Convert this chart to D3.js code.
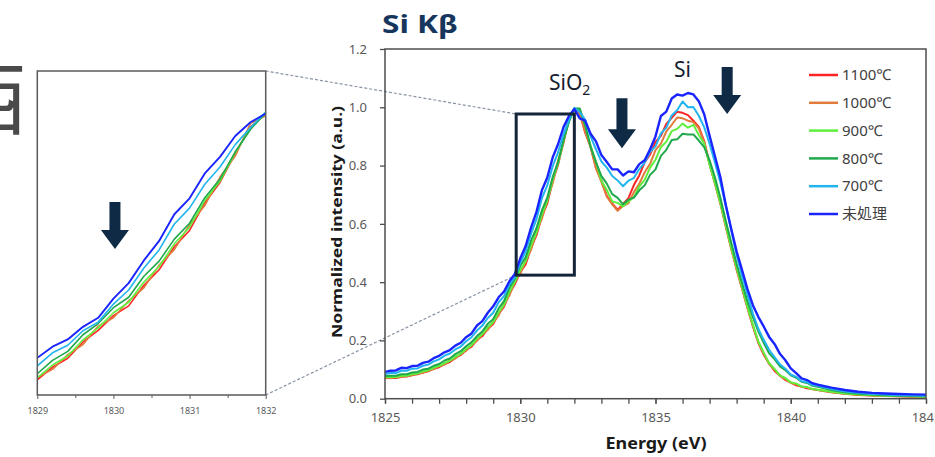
<!DOCTYPE html>
<html>
<head>
<meta charset="utf-8">
<script src="https://cdn.jsdelivr.net/npm/d3@7"></script>
<style>
body { margin: 0; background: #fff; }
text { font-family: "Noto Sans", "Noto Sans CJK JP", sans-serif; }
</style>
</head>
<body>
<svg width="935" height="457"></svg>
<script>
// energies (eV), shared by every series
var energy = [
  1825.0, 1825.2, 1825.4, 1825.6, 1825.8, 1826.0, 1826.2, 1826.4, 1826.6, 1826.8,
  1827.0, 1827.2, 1827.4, 1827.6, 1827.8, 1828.0, 1828.2, 1828.4, 1828.6, 1828.8,
  1829.0, 1829.2, 1829.4, 1829.6, 1829.8, 1830.0, 1830.2, 1830.4, 1830.6, 1830.8,
  1831.0, 1831.2, 1831.4, 1831.6, 1831.8, 1832.0, 1832.2, 1832.4, 1832.6, 1832.8,
  1833.0, 1833.2, 1833.4, 1833.6, 1833.8, 1834.0, 1834.2, 1834.4, 1834.6, 1834.8,
  1835.0, 1835.2, 1835.4, 1835.6, 1835.8, 1836.0, 1836.2, 1836.4, 1836.6, 1836.8,
  1837.0, 1837.2, 1837.4, 1837.6, 1837.8, 1838.0, 1838.2, 1838.4, 1838.6, 1838.8,
  1839.0, 1839.2, 1839.4, 1839.6, 1839.8, 1840.0, 1840.2, 1840.4, 1840.6, 1840.8,
  1841.0, 1841.5, 1842.0, 1842.5, 1843.0, 1843.5, 1844.0, 1844.5, 1845.0
];

var t1100 = [
  0.070, 0.072, 0.071, 0.075, 0.076, 0.081, 0.084, 0.090, 0.094, 0.103,
  0.108, 0.119, 0.126, 0.140, 0.150, 0.167, 0.179, 0.202, 0.215, 0.240,
  0.256, 0.291, 0.316, 0.361, 0.393, 0.434, 0.461, 0.518, 0.561, 0.625,
  0.670, 0.747, 0.803, 0.884, 0.957, 0.992, 0.981, 0.913, 0.866, 0.792,
  0.749, 0.696, 0.670, 0.648, 0.668, 0.688, 0.733, 0.766, 0.811, 0.838,
  0.881, 0.902, 0.943, 0.964, 0.985, 0.981, 0.973, 0.954, 0.933, 0.884,
  0.806, 0.739, 0.671, 0.591, 0.516, 0.443, 0.378, 0.311, 0.249, 0.192,
  0.151, 0.121, 0.095, 0.080, 0.064, 0.056, 0.046, 0.042, 0.036, 0.033,
  0.030, 0.022, 0.017, 0.013, 0.011, 0.009, 0.008, 0.007, 0.006
];
var t1000 = [
  0.072, 0.070, 0.074, 0.074, 0.079, 0.080, 0.088, 0.089, 0.098, 0.101,
  0.113, 0.117, 0.131, 0.138, 0.155, 0.164, 0.185, 0.198, 0.223, 0.236,
  0.263, 0.285, 0.326, 0.354, 0.405, 0.428, 0.475, 0.511, 0.574, 0.617,
  0.686, 0.739, 0.818, 0.876, 0.967, 0.988, 0.978, 0.916, 0.862, 0.790,
  0.744, 0.693, 0.667, 0.645, 0.661, 0.671, 0.709, 0.737, 0.777, 0.806,
  0.853, 0.875, 0.917, 0.940, 0.965, 0.962, 0.954, 0.949, 0.928, 0.880,
  0.804, 0.737, 0.668, 0.590, 0.514, 0.444, 0.377, 0.312, 0.250, 0.194,
  0.155, 0.119, 0.100, 0.078, 0.068, 0.054, 0.050, 0.041, 0.039, 0.032,
  0.030, 0.023, 0.017, 0.014, 0.011, 0.010, 0.008, 0.007, 0.006
];
var t900 = [
  0.074, 0.075, 0.074, 0.079, 0.079, 0.085, 0.086, 0.094, 0.097, 0.107,
  0.112, 0.123, 0.130, 0.144, 0.154, 0.171, 0.184, 0.207, 0.221, 0.246,
  0.262, 0.297, 0.322, 0.367, 0.400, 0.442, 0.471, 0.527, 0.570, 0.633,
  0.679, 0.753, 0.807, 0.886, 0.953, 0.995, 0.994, 0.939, 0.868, 0.812,
  0.748, 0.716, 0.677, 0.672, 0.660, 0.678, 0.691, 0.728, 0.751, 0.793,
  0.820, 0.863, 0.882, 0.918, 0.926, 0.944, 0.930, 0.940, 0.905, 0.875,
  0.803, 0.740, 0.672, 0.594, 0.519, 0.449, 0.383, 0.316, 0.254, 0.197,
  0.158, 0.122, 0.102, 0.080, 0.071, 0.056, 0.052, 0.042, 0.040, 0.033,
  0.031, 0.024, 0.018, 0.014, 0.012, 0.010, 0.009, 0.008, 0.007
];
var t800 = [
  0.078, 0.079, 0.079, 0.084, 0.084, 0.090, 0.092, 0.100, 0.103, 0.113,
  0.119, 0.131, 0.138, 0.153, 0.163, 0.180, 0.194, 0.215, 0.231, 0.257,
  0.273, 0.310, 0.335, 0.381, 0.412, 0.456, 0.485, 0.543, 0.585, 0.646,
  0.690, 0.761, 0.813, 0.888, 0.950, 0.996, 0.996, 0.938, 0.864, 0.812,
  0.764, 0.738, 0.702, 0.689, 0.667, 0.683, 0.690, 0.715, 0.732, 0.768,
  0.787, 0.833, 0.854, 0.888, 0.890, 0.909, 0.907, 0.907, 0.886, 0.863,
  0.818, 0.759, 0.689, 0.610, 0.535, 0.462, 0.396, 0.334, 0.280, 0.231,
  0.192, 0.156, 0.136, 0.111, 0.098, 0.080, 0.072, 0.058, 0.054, 0.044,
  0.041, 0.030, 0.022, 0.017, 0.014, 0.012, 0.010, 0.009, 0.008
];
var t700 = [
  0.085, 0.088, 0.088, 0.096, 0.096, 0.103, 0.104, 0.113, 0.117, 0.128,
  0.135, 0.148, 0.155, 0.169, 0.179, 0.197, 0.211, 0.234, 0.251, 0.277,
  0.295, 0.331, 0.352, 0.392, 0.416, 0.466, 0.505, 0.566, 0.616, 0.688,
  0.732, 0.798, 0.846, 0.908, 0.955, 0.998, 0.984, 0.957, 0.900, 0.856,
  0.814, 0.793, 0.764, 0.749, 0.729, 0.748, 0.757, 0.788, 0.810, 0.847,
  0.866, 0.910, 0.930, 0.972, 0.990, 1.020, 1.000, 1.001, 0.971, 0.932,
  0.874, 0.810, 0.741, 0.662, 0.578, 0.492, 0.421, 0.358, 0.292, 0.240,
  0.202, 0.168, 0.143, 0.118, 0.103, 0.083, 0.075, 0.060, 0.057, 0.047,
  0.044, 0.033, 0.025, 0.020, 0.016, 0.014, 0.012, 0.011, 0.010
];
var untreated = [
  0.092, 0.096, 0.097, 0.106, 0.105, 0.112, 0.113, 0.123, 0.127, 0.139,
  0.147, 0.159, 0.167, 0.182, 0.192, 0.211, 0.224, 0.251, 0.266, 0.295,
  0.317, 0.348, 0.368, 0.403, 0.428, 0.481, 0.524, 0.587, 0.641, 0.715,
  0.759, 0.828, 0.874, 0.932, 0.970, 0.994, 0.962, 0.954, 0.909, 0.883,
  0.836, 0.812, 0.787, 0.787, 0.766, 0.780, 0.777, 0.805, 0.818, 0.856,
  0.900, 0.970, 0.985, 1.030, 1.044, 1.040, 1.049, 1.044, 1.021, 0.976,
  0.902, 0.831, 0.760, 0.664, 0.582, 0.505, 0.441, 0.376, 0.321, 0.281,
  0.248, 0.212, 0.188, 0.154, 0.132, 0.104, 0.088, 0.070, 0.064, 0.053,
  0.048, 0.038, 0.030, 0.024, 0.020, 0.018, 0.016, 0.015, 0.014
];

var seriesNames = ["1100℃", "1000℃", "900℃", "800℃", "700℃", "未処理"];
var seriesValues = [t1100, t1000, t900, t800, t700, untreated];
var seriesColors = ["#ff2424", "#e07b3c", "#5ef03c", "#1fa84c", "#22b4ee", "#1a24ff"];

var xTicks = [1825, 1830, 1835, 1840, 1845];
var yTicks = [0, 0.2, 0.4, 0.6, 0.8, 1.0, 1.2];
var insetTicks = [1829, 1830, 1831, 1832];

// zoom box on the SiO2 edge: [e0, e1, v0, v1]
var zoomBox = [1829.85, 1832.0, 0.424, 0.977];
// arrows: [energy, top value, bottom value]
var mainArrows = [[1833.76, 1.031, 0.859], [1837.65, 1.138, 0.977]];
var insetArrow = [1830.02, 0.749, 0.619];

var svg = d3.select("svg"),
    ink = "#0e2a44";

var x = d3.scaleLinear().domain([1825, 1845]).range([385, 926]),
    y = d3.scaleLinear().domain([0, 1.2]).range([398.7, 49]);

var xi = d3.scaleLinear().domain([1829, 1832]).range([37.3, 265.7]),
    yi = d3.scaleLinear().domain([0.214, 1.112]).range([395, 71]);

var rows = seriesNames.map(function(name, k) {
  return {
    name: name,
    color: seriesColors[k],
    points: energy.map(function(e, i) { return {e: e, v: seriesValues[k][i]}; })
  };
});

// cut-off glyph at the very left
svg.append("text")
    .attr("x", 27).attr("y", 128)
    .attr("text-anchor", "end")
    .style("font-family", "'Noto Sans CJK JP'")
    .style("font-size", "80px")
    .style("fill", "#4a4a4a")
    .text("西");

// title
svg.append("text")
    .attr("x", 382).attr("y", 33)
    .attr("textLength", 76)
    .attr("lengthAdjust", "spacingAndGlyphs")
    .style("font-size", "25px")
    .style("font-weight", "bold")
    .style("fill", "#17365d")
    .text("Si Kβ");

// ---- main chart ----
var clip = svg.append("defs");
clip.append("clipPath").attr("id", "clipMain")
  .append("rect").attr("x", 385).attr("y", 49).attr("width", 541).attr("height", 349.7);
clip.append("clipPath").attr("id", "clipInset")
  .append("rect").attr("x", 37.3).attr("y", 71).attr("width", 228.4).attr("height", 324);

// dashed connectors (behind everything)
var conn = svg.append("g")
    .style("stroke", "#8893a3")
    .style("stroke-width", 1.2)
    .style("stroke-dasharray", "3,2");
conn.append("line")
    .attr("x1", xi(1832)).attr("y1", yi(1.112))
    .attr("x2", x(zoomBox[0])).attr("y2", y(zoomBox[3]));
conn.append("line")
    .attr("x1", xi(1832)).attr("y1", yi(0.214))
    .attr("x2", x(zoomBox[0])).attr("y2", y(zoomBox[2]));

var line = d3.line()
    .x(function(d) { return x(d.e); })
    .y(function(d) { return y(d.v); });

svg.append("g").attr("clip-path", "url(#clipMain)")
  .selectAll("path").data(rows).enter().append("path")
    .attr("d", function(d) { return line(d.points); })
    .style("fill", "none")
    .style("stroke", function(d) { return d.color; })
    .style("stroke-width", function(d, i) { return i == 5 ? 2.4 : 2; })
    .style("stroke-linejoin", "round");

// frame
svg.append("rect")
    .attr("x", 385).attr("y", 49).attr("width", 541).attr("height", 349.7)
    .style("fill", "none").style("stroke", "#4d4d4d").style("stroke-width", 1.5);

var yAxis = svg.append("g")
    .attr("transform", "translate(385,0)")
    .call(d3.axisLeft(y).tickValues(yTicks).tickFormat(d3.format(".1f")).tickSize(5).tickPadding(13));
var xMinor = svg.append("g")
    .attr("transform", "translate(0,398.7)")
    .call(d3.axisBottom(x).tickValues(d3.range(1825, 1846, 1)).tickFormat("").tickSize(5));
var xAxis = svg.append("g")
    .attr("transform", "translate(0,398.7)")
    .call(d3.axisBottom(x).tickValues(xTicks).tickFormat(d3.format("d")).tickSize(5).tickPadding(9));

[yAxis, xMinor, xAxis].forEach(function(a) {
  a.select(".domain").remove();
  a.selectAll("line").style("stroke", "#4d4d4d").style("stroke-width", 1.3);
  a.selectAll("text").style("font-size", "13px").style("fill", "#595959")
      .style("font-family", "'Noto Sans'");
});

svg.append("text")
    .attr("transform", "translate(342,222) rotate(-90)")
    .attr("text-anchor", "middle")
    .attr("textLength", 232)
    .attr("lengthAdjust", "spacingAndGlyphs")
    .style("font-size", "15px")
    .style("font-weight", "bold")
    .style("fill", "#1a1a1a")
    .text("Normalized intensity (a.u.)");

svg.append("text")
    .attr("x", 656).attr("y", 449)
    .attr("text-anchor", "middle")
    .attr("textLength", 101)
    .attr("lengthAdjust", "spacingAndGlyphs")
    .style("font-size", "16px")
    .style("font-weight", "bold")
    .style("fill", "#1a1a1a")
    .text("Energy (eV)");

// zoom box
svg.append("rect")
    .attr("x", x(zoomBox[0])).attr("y", y(zoomBox[3]))
    .attr("width", x(zoomBox[1]) - x(zoomBox[0]))
    .attr("height", y(zoomBox[2]) - y(zoomBox[3]))
    .style("fill", "none").style("stroke", "#14253a").style("stroke-width", 3);

// peak labels
var sio2 = svg.append("text")
    .attr("x", 549).attr("y", 90)
    .style("font-size", "21px")
    .style("fill", "#14202e");
sio2.append("tspan").text("SiO");
sio2.append("tspan").attr("dy", 5).style("font-size", "14px").text("2");

svg.append("text")
    .attr("x", 674).attr("y", 77)
    .style("font-size", "21px")
    .style("fill", "#14202e")
    .text("Si");

function arrow(cx, top, bottom) {
  var head = 19, sw = 5.5, hw = 14;
  return "M" + (cx - sw) + "," + top + "H" + (cx + sw) + "V" + (bottom - head) +
         "H" + (cx + hw) + "L" + cx + "," + bottom + "L" + (cx - hw) + "," + (bottom - head) +
         "H" + (cx - sw) + "Z";
}
mainArrows.forEach(function(a) {
  svg.append("path").attr("d", arrow(x(a[0]), y(a[1]), y(a[2]))).style("fill", ink);
});

// legend
var legend = svg.append("g");
rows.forEach(function(d, i) {
  var ly = 75 + i * 27.8;
  legend.append("line")
      .attr("x1", 809).attr("x2", 838).attr("y1", ly).attr("y2", ly)
      .style("stroke", d.color).style("stroke-width", 2.5);
  legend.append("text")
      .attr("x", 842).attr("y", ly).attr("dy", "0.35em")
      .style("font-size", "15px")
      .style("fill", "#404040")
      .text(d.name);
});

// ---- inset ----
var insetLine = d3.line()
    .x(function(d) { return xi(d.e); })
    .y(function(d) { return yi(d.v); });

svg.append("g").attr("clip-path", "url(#clipInset)")
  .selectAll("path").data(rows).enter().append("path")
    .attr("d", function(d) {
      return insetLine(d.points.filter(function(p) { return p.e >= 1829 && p.e <= 1832.2; }));
    })
    .style("fill", "none")
    .style("stroke", function(d) { return d.color; })
    .style("stroke-width", function(d, i) { return i == 5 ? 1.9 : 1.6; })
    .style("stroke-linejoin", "round");

svg.append("rect")
    .attr("x", 37.3).attr("y", 71).attr("width", 228.4).attr("height", 324)
    .style("fill", "none").style("stroke", "#5a5a5a").style("stroke-width", 1.5);

var iMinor = svg.append("g")
    .attr("transform", "translate(0,395)")
    .call(d3.axisBottom(xi).tickValues([1829.5, 1830.5, 1831.5]).tickFormat("").tickSize(3));
var iAxis = svg.append("g")
    .attr("transform", "translate(0,395)")
    .call(d3.axisBottom(xi).tickValues(insetTicks).tickFormat(d3.format("d")).tickSize(4).tickPadding(9));
[iMinor, iAxis].forEach(function(a) {
  a.select(".domain").remove();
  a.selectAll("line").style("stroke", "#5a5a5a");
  a.selectAll("text").style("font-size", "9px").style("fill", "#595959");
});

svg.append("path")
    .attr("d", arrow(xi(insetArrow[0]), yi(insetArrow[1]), yi(insetArrow[2])))
    .style("fill", ink);
</script>
</body>
</html>
